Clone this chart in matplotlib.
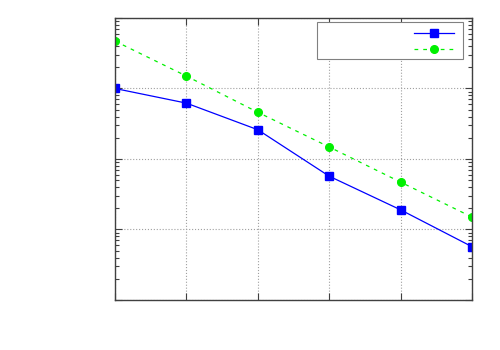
import matplotlib
matplotlib.use('Agg')
import matplotlib.pyplot as plt
from matplotlib.patches import Rectangle
from matplotlib.ticker import LogLocator, NullFormatter, MultipleLocator

x = [0, 1, 2, 3, 4, 5]
series_a = [0.10, 0.062, 0.026, 0.0057, 0.0019, 0.00057]
series_b = [0.47, 0.150, 0.046, 0.0148, 0.0047, 0.0015]
labels = ['', '']

fig = plt.figure(figsize=(5, 3.5), dpi=100)
ax = fig.add_axes([0.23, 0.1429, 0.714, 0.8057])

line_a, = ax.plot(x, series_a, color='#0000ff', lw=0.9, marker='s', ms=5.5)
line_b, = ax.plot(x, series_b, color='#00f000', lw=0.9, ls=(0, (3, 4)),
                  marker='o', ms=5.5)

ax.set_yscale('log')
ax.set_xlim(0, 5)
ax.set_ylim(1e-4, 1)
ax.xaxis.set_major_locator(MultipleLocator(1))
ax.yaxis.set_major_locator(LogLocator(base=10))
ax.yaxis.set_minor_locator(LogLocator(base=10, subs=range(2, 10)))
ax.xaxis.set_major_formatter(NullFormatter())
ax.yaxis.set_major_formatter(NullFormatter())
ax.yaxis.set_minor_formatter(NullFormatter())
ax.tick_params(which='both', direction='in', top=True, right=True,
               color='#404040', width=0.8)
ax.tick_params(which='major', length=5)
ax.tick_params(which='minor', length=3)
ax.grid(True, which='major', color='#a0a0a0', ls=':', lw=0.8)
for s in ax.spines.values():
    s.set_color('#404040')
    s.set_linewidth(1)

# legend box drawn separately so the key entries sit inside with gnuplot-like padding
ax.add_patch(Rectangle((0.566, 0.855), 0.409, 0.131, transform=ax.transAxes,
                       facecolor='white', edgecolor='#808080', lw=0.8,
                       zorder=4))
leg = ax.legend([line_a, line_b], labels, loc='upper right',
                bbox_to_anchor=(0.961, 0.982), borderaxespad=0,
                markerfirst=False, handlelength=2.9, handletextpad=0.5,
                borderpad=0.3, frameon=False, labelspacing=0.1, fontsize=10)
leg.set_zorder(5)

fig.savefig('out.png', dpi=100)
